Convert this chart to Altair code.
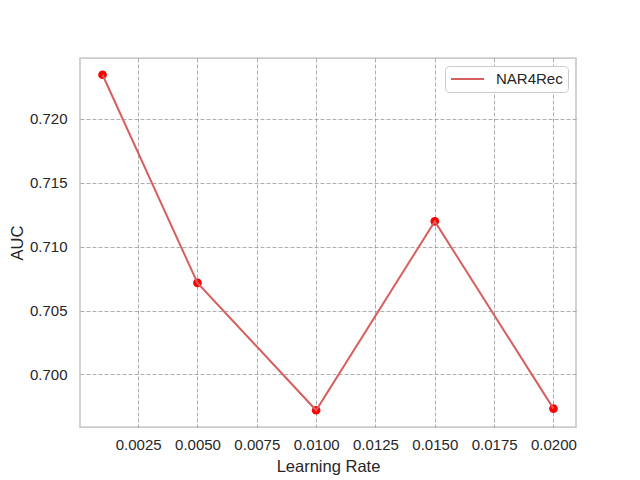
import altair as alt
import pandas as pd

learning_rates = [0.001, 0.005, 0.010, 0.015, 0.020]
auc_values = [0.72346, 0.70716, 0.69719, 0.71198, 0.69732]
series_name = ["NAR4Rec"] * 5
x_ticks = [0.0025, 0.0050, 0.0075, 0.0100, 0.0125, 0.0150, 0.0175, 0.0200]
y_ticks = [0.700, 0.705, 0.710, 0.715, 0.720]

df = pd.DataFrame({"lr": learning_rates, "auc": auc_values, "series": series_name})

FONT = "Liberation Sans"
TXT = "#262626"

x_enc = alt.X("lr:Q", title="Learning Rate",
              scale=alt.Scale(domain=[0.00005, 0.02095], nice=False, zero=False),
              axis=alt.Axis(values=x_ticks, format=".4f", labelPadding=10,
                            titlePadding=6))
y_enc = alt.Y("auc:Q", title="AUC",
              scale=alt.Scale(domain=[0.69588, 0.72477], nice=False, zero=False),
              axis=alt.Axis(values=y_ticks, format=".3f", labelPadding=13,
                            titlePadding=4))

points = alt.Chart(df).mark_circle(color="#ff0000", opacity=1, size=75).encode(
    x=x_enc, y=y_enc)

line = alt.Chart(df).mark_line(strokeWidth=2).encode(
    x=x_enc, y=y_enc,
    color=alt.Color("series:N", title=None,
                    scale=alt.Scale(range=["#d65f5f"]),
                    legend=alt.Legend(orient="top-right", offset=8,
                                      symbolType="stroke", symbolSize=1089,
                                      symbolStrokeWidth=2, clipHeight=16,
                                      labelFontSize=15, labelFont=FONT,
                                      labelColor=TXT, labelOffset=11,
                                      padding=5, strokeColor="#cccccc",
                                      fillColor="white", cornerRadius=4)))

chart = (points + line).properties(
    width=496, height=369,
    autosize="none",
    background="white",
    padding={"left": 72, "top": 50, "right": 56, "bottom": 60},
).configure_view(
    stroke="#cccccc", strokeWidth=1.75
).configure_axis(
    domain=False, ticks=False,
    grid=True, gridColor="#999999", gridDash=[4, 2], gridWidth=0.8,
    labelFont=FONT, labelFontSize=15, labelColor=TXT,
    titleFont=FONT, titleFontSize=16.5, titleColor=TXT, titleFontWeight="normal",
)

chart.save("out.html", embed_options={"renderer": "svg", "actions": False})
